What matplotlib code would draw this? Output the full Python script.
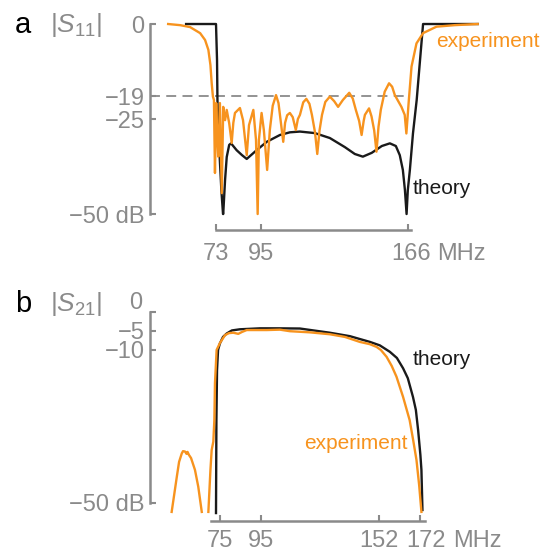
import numpy as np
import matplotlib.pyplot as plt

plt.rcParams['font.family'] = ['Liberation Sans', 'DejaVu Sans']
plt.rcParams['mathtext.fontset'] = 'custom'
plt.rcParams['mathtext.rm'] = 'Liberation Sans'
plt.rcParams['mathtext.it'] = 'Liberation Sans:italic'

GRAY = '#8a8a8a'
ORANGE = '#f7931e'
BLACK = '#1a1a1a'
TICK_SIZE = 17

# panel a, |S11| in dB
s11_theory_f = [58.5, 73.0, 73.5, 73.7, 74.6, 75.6, 76.4, 76.5, 77.4, 78.2, 79.4, 80.3, 83.0, 85.6, 87.9,
                92.7, 97.6, 104.0, 108.8, 113.7, 120.9, 128.2, 135.5, 140.3, 144.2, 148.5, 153.4, 157.3,
                160.2, 162.1, 163.6, 164.6, 165.4, 166.0, 167.0, 168.5, 170.3, 171.8, 173.4, 199.9]
s11_theory_db = [0, 0, -9.5, -20, -33, -43.7, -50, -50, -41, -35, -31.8, -31.4, -33.2, -34.5, -35.5,
                 -33.2, -31, -29.2, -28.5, -28.3, -28.7, -30, -32.4, -34.2, -34.9, -33.9, -32.1, -31.4,
                 -32.1, -34.5, -38.4, -43.7, -50, -43.7, -38.4, -28.8, -20, -10.3, 0, 0]

s11_exp_f = [49.8, 55.6, 60.4, 65.3, 67.7, 69.3, 70.3, 70.9, 71.5, 72.0, 72.5, 73.1, 73.5, 74.1, 74.9,
             75.8, 76.5, 77.4, 78.2, 79.4, 80.6, 81.4, 82.2, 84.6, 86.1, 87.9, 89.0, 91.1, 92.4, 93.2,
             93.8, 95.1, 96.2, 97.8, 99.1, 100.5, 102.1, 103.3, 104.0, 105.6, 106.5, 107.5, 108.8, 110.2,
             111.7, 112.7, 113.7, 115.3, 116.8, 118.3, 119.5, 121.0, 122.1, 123.2, 124.4, 126.0, 128.2,
             130.3, 132.2, 134.5, 137.6, 139.3, 140.8, 142.4, 143.6, 144.6, 145.2, 147.2, 148.4, 149.7,
             150.8, 151.8, 152.9, 154.8, 156.9, 158.4, 159.7, 162.9, 164.5, 165.3, 166.5, 167.8, 170.2,
             173.4, 179.9, 188.7, 199.9]
s11_exp_db = [0, -0.3, -0.8, -2.4, -4.2, -6.8, -10.8, -15.5, -19.1, -20, -39.2, -20.8, -27.9, -34.9, -20.8,
              -44.5, -21.8, -25.3, -22.6, -26.1, -31.3, -26, -23.4, -22.1, -25.3, -34.5, -26.6, -22.6, -30.5,
              -50, -30.5, -23.4, -27.9, -38.4, -27.9, -21.5, -18.7, -20.8, -23.9, -31, -26, -24, -23.4, -24.5,
              -27.9, -25, -23.9, -20.6, -19.7, -21, -23.9, -28.5, -34.2, -28, -23.9, -20.5, -19.1,
              -20.3, -21.8, -20, -18.1, -19.6, -22.6, -25.5, -29.2, -25.5, -23.9, -22.2, -24.3, -28,
              -33.6, -27, -22.6, -17.8, -15.6, -16.5, -18.7, -21.8, -23.9, -28.8, -20, -11.2, -5.1,
              -2.4, -0.7, -0.3, 0]

# panel b, |S21| in dB
s21_theory_f = [73.0, 73.2, 73.5, 74.0, 74.9, 76.4, 78.2, 80.7, 84.6, 94.3, 104.0, 113.7, 128.2, 137.9,
                147.6, 152.4, 157.3, 160.7, 163.7, 166.0, 168.5, 169.9, 171.0, 172.1, 172.6, 173.1]
s21_theory_db = [-52.7, -28.4, -15.3, -10, -8.3, -6.6, -5.7, -4.9, -4.6, -4.35, -4.35, -4.4, -5.5, -6.4,
                 -7.9, -8.8, -10.5, -12.1, -14.8, -17.4, -22.3, -25.7, -31, -37.5, -41.4, -51.9]

# nan splits the two pieces of the measured trace
s21_exp_f = [51.5, 52.7, 54.0, 55.1, 56.4, 57.0, 58.0, 58.7, 59.2, 59.9, 60.9, 62.8, 64.4, 66.1, np.nan,
             69.3, 70.3, 70.9, 71.7, 72.2, 72.5, 73.3, 74.9, 77.4, 79.3, 81.4, 83.8, 85.6, 87.9, 97.6,
             104.0, 108.8, 118.5, 128.2, 135.5, 142.7, 147.6, 150.8, 152.9, 155.7, 158.2, 160.5, 163.7,
             166.9, 168.6, 170.2, 171.5, 172.6]
s21_exp_db = [-52.4, -48, -43.2, -39.3, -37.1, -36.5, -36.6, -37.2, -36.7, -37.5, -38.3, -41.4, -45.8, -52.4,
              np.nan, -52.4, -41.4, -36.2, -34, -28.4, -18.7, -10, -8.2, -6.1, -5.6, -5.5, -5.8, -5.3, -4.8,
              -4.8, -4.7, -5.1, -5.4, -5.9, -6.6, -7.9, -8.5, -9.2, -10, -11.8, -14.2, -17, -22.3, -28.4,
              -33.6, -38.8, -45.4, -52.4]

s11_yticks = [0, -19, -25, -50]
s11_yticklabels = ['0', '\u221219', '\u221225', '\u221250 dB']
s11_xticks = [73, 95, 166]
s11_xticklabels = ['73', '95', '166']
s21_yticks = [0, -5, -10, -50]
s21_yticklabels = ['', '\u22125', '\u221210', '\u221250 dB']
s21_xticks = [75, 95, 152, 172]
s21_xticklabels = ['75', '95', '152', '172']


def style_axes(ax, ylim, xbounds):
    ax.set_xlim(41, 201)
    ax.set_ylim(*ylim)
    for side in ['top', 'right']:
        ax.spines[side].set_visible(False)
    for side in ['left', 'bottom']:
        ax.spines[side].set_color(GRAY)
        ax.spines[side].set_linewidth(1.8)
    ax.spines['left'].set_bounds(-50, 0)
    ax.spines['bottom'].set_bounds(*xbounds)
    ax.tick_params(direction='in', length=4, width=1.5, color=GRAY, labelcolor=GRAY, labelsize=TICK_SIZE)
    ax.tick_params(axis='y', pad=4)
    ax.patch.set_alpha(0)


def x_labels(ax, ticks, labels, dy, last_shift=0):
    # numbers centred on their ticks, the unit hangs off the last one
    ax.set_xticks(ticks)
    ax.set_xticklabels([])
    for i in range(len(ticks)):
        dx = 0
        if i == len(ticks) - 1:
            dx = last_shift
        ax.annotate(labels[i], xy=(ticks[i], 0), xycoords=('data', 'axes fraction'), xytext=(dx, dy),
                    textcoords='offset points', ha='center', va='top', color=GRAY, fontsize=TICK_SIZE)
    num_w = len(labels[-1]) * 0.556 * TICK_SIZE
    ax.annotate('MHz', xy=(ticks[-1], 0), xycoords=('data', 'axes fraction'),
                xytext=(last_shift + num_w / 2 + 0.28 * TICK_SIZE, dy), textcoords='offset points',
                ha='left', va='top', color=GRAY, fontsize=TICK_SIZE)


fig = plt.figure(figsize=(5.5, 5.52), dpi=100)

# top panel
ax1 = fig.add_axes([150 / 550, 1 - 230 / 552, 330 / 550, 208 / 552])
ax1.hlines(-19, 41, 167, colors=GRAY, linewidth=1.3, linestyles=(0, (5.5, 3.5)))
ax1.plot(s11_theory_f, s11_theory_db, color=BLACK, linewidth=1.7, solid_joinstyle='round')
ax1.plot(s11_exp_f, s11_exp_db, color=ORANGE, linewidth=1.7, solid_joinstyle='round')
style_axes(ax1, (-54.2, 0.53), (73, 167.5))
ax1.set_yticks(s11_yticks)
ax1.set_yticklabels(s11_yticklabels)
x_labels(ax1, s11_xticks, s11_xticklabels, -9.5, 2)
ax1.text(179.8, -4.7, 'experiment', color=ORANGE, fontsize=15, ha='left', va='center')
ax1.text(168.5, -43.2, 'theory', color=BLACK, fontsize=15, ha='left', va='center')

# bottom panel
ax2 = fig.add_axes([150 / 550, 1 - 520.7 / 552, 330 / 550, 210.9 / 552])
ax2.plot(s21_theory_f, s21_theory_db, color=BLACK, linewidth=1.7, solid_joinstyle='round')
ax2.plot(s21_exp_f, s21_exp_db, color=ORANGE, linewidth=1.7, solid_joinstyle='round')
style_axes(ax2, (-54.7, 0.5), (70.6, 174.4))
ax2.set_yticks(s21_yticks)
ax2.set_yticklabels(s21_yticklabels)
x_labels(ax2, s21_xticks, s21_xticklabels, -6.5, 4.5)
# the 0 label sits a bit above its tick
ax2.annotate('0', xy=(0, 0), xycoords=('axes fraction', 'data'), xytext=(-5.3, 6),
             textcoords='offset points', ha='right', va='center', color=GRAY, fontsize=TICK_SIZE)
ax2.text(168.5, -12.6, 'theory', color=BLACK, fontsize=15, ha='left', va='center')
ax2.text(166.1, -34.5, 'experiment', color=ORANGE, fontsize=15, ha='right', va='center')

# panel letters and quantity names
fig.text(15 / 550, 1 - 25 / 552, 'a', fontsize=21, color='black', ha='left', va='center')
fig.text(50 / 550, 1 - 25 / 552, r'$|S_{11}|$', fontsize=19, color=GRAY, ha='left', va='center')
fig.text(15 / 550, 1 - 304 / 552, 'b', fontsize=21, color='black', ha='left', va='center')
fig.text(50 / 550, 1 - 304 / 552, r'$|S_{21}|$', fontsize=19, color=GRAY, ha='left', va='center')

fig.savefig('out.png', dpi=100)
